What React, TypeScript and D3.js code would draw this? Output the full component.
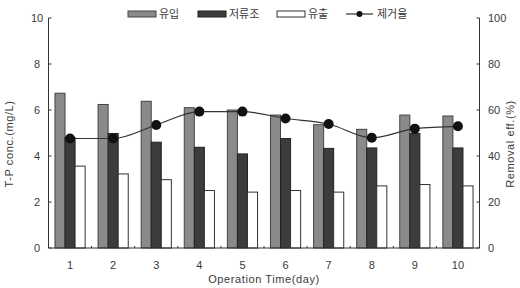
import React from "react";
import * as d3 from "d3";

const days = ["1", "2", "3", "4", "5", "6", "7", "8", "9", "10"];
const inflow = [6.73, 6.24, 6.38, 6.1, 6.0, 5.78, 5.36, 5.16, 5.78, 5.74];
const storage = [4.8, 4.98, 4.6, 4.38, 4.09, 4.76, 4.33, 4.35, 4.98, 4.35];
const outflow = [3.56, 3.22, 2.97, 2.5, 2.43, 2.5, 2.43, 2.7, 2.76, 2.7];
const removal = [47.6, 47.6, 53.5, 59.3, 59.3, 56.3, 53.9, 47.9, 51.9, 52.9];
const leftTicks = [0, 2, 4, 6, 8, 10];
const rightTicks = [0, 20, 40, 60, 80, 100];
const seriesNames = ["유입", "저류조", "유출"];
const lineName = "제거율";

export default function App() {
  const W = 520, H = 288;
  const left = 48.5, right = 479.5, top = 18, bottom = 248;
  const x = d3.scaleBand<string>().domain(days).range([left, right]).paddingInner(0.3).paddingOuter(0.15);
  const xi = d3.scaleBand<number>().domain([0, 1, 2]).range([0, x.bandwidth()]);
  const yL = d3.scaleLinear().domain([0, 10]).range([bottom, top]);
  const yR = d3.scaleLinear().domain([0, 100]).range([bottom, top]);
  const step = x.step();
  const fills = ["#8a8a8a", "#3c3c3c", "#ffffff"];
  const strokes = ["#444", "#222", "#333"];
  const data = [inflow, storage, outflow];
  const line = d3
    .line<number>()
    .x((_, i) => (x(days[i]) as number) + x.bandwidth() / 2)
    .y((d) => yR(d))
    .curve(d3.curveMonotoneX);
  const font = "Liberation Sans, Arial, sans-serif";
  const kfont = "Noto Sans CJK KR, sans-serif";
  const txt = "#3a3a3a";
  const ls = 0.6;
  const legendItems = [
    { x: 128, name: seriesNames[0], i: 0 },
    { x: 198, name: seriesNames[1], i: 1 },
    { x: 277, name: seriesNames[2], i: 2 },
  ];
  return (
    <svg width={W} height={H} style={{ position: "absolute", left: 0, top: 0, background: "#fff" }}>
      {data.map((arr, s) =>
        arr.map((v, i) => (
          <rect
            key={`b${s}-${i}`}
            x={(x(days[i]) as number) + (xi(s) as number)}
            y={yL(v)}
            width={xi.bandwidth()}
            height={bottom - yL(v)}
            fill={fills[s]}
            stroke={strokes[s]}
            strokeWidth={1}
          />
        ))
      )}
      <path d={line(removal) || ""} fill="none" stroke="#333" strokeWidth={1.2} />
      {removal.map((v, i) => (
        <circle key={`m${i}`} cx={(x(days[i]) as number) + x.bandwidth() / 2} cy={yR(v)} r={5} fill="#111" />
      ))}
      <line x1={left} x2={left} y1={top} y2={bottom} stroke="#333" />
      <line x1={right} x2={right} y1={top} y2={bottom} stroke="#333" />
      <line x1={left} x2={right} y1={bottom} y2={bottom} stroke="#333" />
      {days.map((d, i) =>
        i > 0 ? (
          <line key={`xt${i}`} x1={left + step * i} x2={left + step * i} y1={bottom} y2={bottom - 2} stroke="#333" />
        ) : null
      )}
      {leftTicks.map((t) => (
        <g key={`lt${t}`}>
          <line x1={left} x2={left + 3} y1={yL(t)} y2={yL(t)} stroke="#333" />
          <text x={37} y={yL(t) + 4} textAnchor="middle" fontSize={11} fontFamily={font} fill={txt}>
            {t}
          </text>
        </g>
      ))}
      {rightTicks.map((t) => (
        <g key={`rt${t}`}>
          <line x1={right - 3} x2={right} y1={yR(t)} y2={yR(t)} stroke="#333" />
          <text x={488} y={yR(t) + 4} textAnchor="start" fontSize={11} fontFamily={font} fill={txt}>
            {t}
          </text>
        </g>
      ))}
      {days.map((d) => (
        <text
          key={`xl${d}`}
          x={(x(d) as number) + x.bandwidth() / 2}
          y={269}
          textAnchor="middle"
          fontSize={11}
          fontFamily={font}
          fill={txt}
        >
          {d}
        </text>
      ))}
      <text x={264} y={283} textAnchor="middle" fontSize={11} fontFamily={font} fill={txt} letterSpacing={ls}>
        Operation Time(day)
      </text>
      <text
        transform={`translate(13,${144}) rotate(-90)`}
        textAnchor="middle"
        fontSize={11}
        fontFamily={font}
        fill={txt}
        letterSpacing={ls}
      >
        T-P conc.(mg/L)
      </text>
      <text
        transform={`translate(514,${144}) rotate(-90)`}
        textAnchor="middle"
        fontSize={11}
        fontFamily={font}
        fill={txt}
        letterSpacing={ls}
      >
        Removal eff.(%)
      </text>
      {legendItems.map((it) => (
        <g key={`lg${it.i}`}>
          <rect x={it.x} y={11} width={28} height={6} fill={fills[it.i]} stroke={strokes[it.i]} />
          <text x={it.x + 31} y={18} fontSize={11} fontFamily={kfont} fill={txt}>
            {it.name}
          </text>
        </g>
      ))}
      <line x1={346} x2={373} y1={14} y2={14} stroke="#333" strokeWidth={1.2} />
      <circle cx={359.5} cy={14} r={3} fill="#111" />
      <text x={377} y={18} fontSize={11} fontFamily={kfont} fill={txt}>
        {lineName}
      </text>
    </svg>
  );
}
